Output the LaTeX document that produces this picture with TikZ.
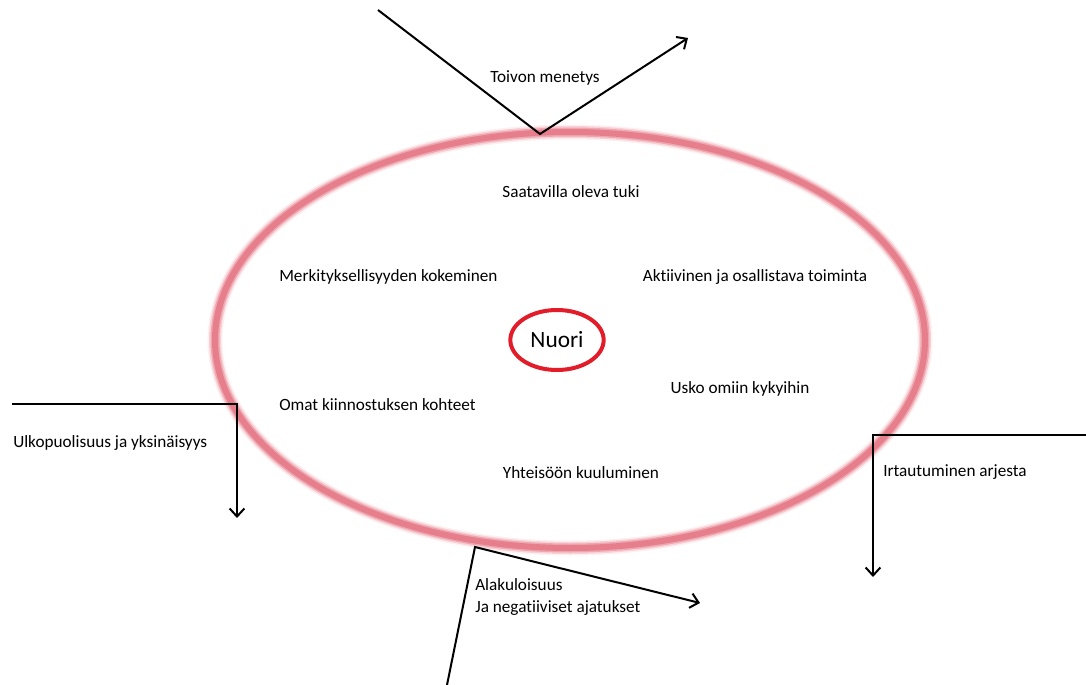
\documentclass[tikz,border=0pt]{standalone}
\usepackage{fontspec}
\setmainfont{Carlito}[Ligatures=NoCommon]
\usetikzlibrary{arrows.meta,shapes.geometric}
\definecolor{ringpink}{RGB}{226,104,120}
\definecolor{nuorired}{RGB}{226,28,40}
\begin{document}
\begin{tikzpicture}[x=0.75pt,y=-0.75pt,
    lbl/.style={font=\fontsize{12.9}{17}\selectfont, inner sep=0pt},
    ray/.style={line width=1.5pt, -{Straight Barb[length=6pt,width=11pt,line width=1.5pt]}}]
    \useasboundingbox (0,0) rectangle (1086,685);
    % soft outer ring
    \foreach \w/\o in {15/0.1, 12/0.22, 9/0.4, 6/0.65}
        \draw[ringpink, line width=\w*0.75pt, opacity=\o] (570,340) ellipse [x radius=355, y radius=208];
    % centre
    \node[ellipse, draw=nuorired, line width=3pt, minimum width=70pt, minimum height=45pt,
        font=\fontsize{17.5}{20}\selectfont] (nuori) at (557,340) {Nuori};
    % inside the ring
    \node[lbl] (tuki) at (571,192) {Saatavilla oleva tuki};
    \node[lbl, anchor=west] (merkitys) at (279,277) {Merkityksellisyyden kokeminen};
    \node[lbl] (toiminta) at (755,277) {Aktiivinen ja osallistava toiminta};
    \node[lbl] (usko) at (740,389) {Usko omiin kykyihin};
    \node[lbl, anchor=west] (kiinnostus) at (279,405) {Omat kiinnostuksen kohteet};
    \node[lbl] (yhteiso) at (581,473) {Yhteisöön kuuluminen};
    % outside the ring
    \node[lbl] (toivo) at (545,78) {Toivon menetys};
    \node[lbl, anchor=west] (ulko) at (13,443) {Ulkopuolisuus ja yksinäisyys};
    \node[lbl, anchor=west] (irti) at (883,472) {Irtautuminen arjesta};
    \node[lbl, anchor=west, align=left] (ala) at (475,597) {Alakuloisuus\\Ja negatiiviset ajatukset};
    % rays
    \coordinate (t1) at (378,10);
    \coordinate (t2) at (540,134);
    \coordinate (t3) at (688,38);
    \coordinate (u1) at (12,404);
    \coordinate (u2) at (237,404);
    \coordinate (u3) at (237,518);
    \coordinate (i1) at (1086,435);
    \coordinate (i2) at (873,435);
    \coordinate (i3) at (873,577);
    \coordinate (a1) at (447,685);
    \coordinate (a2) at (475,547);
    \coordinate (a3) at (700,603);
    \draw[ray] (t1) -- (t2) -- (t3);
    \draw[ray] (u1) -- (u2) -- (u3);
    \draw[ray] (i1) -- (i2) -- (i3);
    \draw[ray] (a1) -- (a2) -- (a3);
\end{tikzpicture}
\end{document}
